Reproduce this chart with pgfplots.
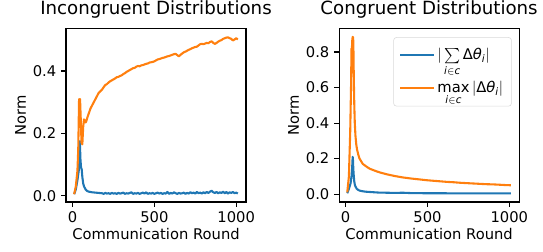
\documentclass[border=0pt]{standalone}
\usepackage{amsmath}
\usepackage{fontspec}
\setmainfont{DejaVu Sans}
\usepackage{pgfplots}
\pgfplotsset{compat=1.18}
\definecolor{cA}{HTML}{1F77B4}
\definecolor{cB}{HTML}{FF7F0E}
\newcommand\mi[1]{\text{\itshape #1}}
\pgfplotsset{
  mpl/.style={
    scale only axis, width=129.6pt, height=124.6pt,
    axis line style={line width=0.8pt},
    tick align=outside, major tick length=3.5pt,
    tick style={line width=0.8pt, black},
    xtick pos=left, ytick pos=left,
    xmin=-40, xmax=1060, xtick={0,500,1000},
    /pgf/number format/assume math mode=true,
    /pgf/number format/fixed, /pgf/number format/1000 sep={},
    ticklabel style={font=\fontsize{10.6}{12}\selectfont},
    label style={font=\fontsize{10.6}{12}\selectfont},
    title style={font=\fontsize{13.1}{14}\selectfont, yshift=-2pt},
    xlabel={Communication Round}, ylabel={Norm},
    xlabel style={yshift=3pt}, ylabel style={yshift=-2pt},
    every axis plot/.append style={line width=1.5pt, line join=round},
  }
}
\begin{document}
\begin{tikzpicture}
\path[use as bounding box] (-47.5pt,-35.3pt) rectangle (343.4pt,145.4pt);
\begin{axis}[mpl, title={Incongruent Distributions},
  ymin=-0.02, ymax=0.535, ytick={0,0.2,0.4},
  yticklabel style={/pgf/number format/precision=1, /pgf/number format/fixed zerofill}]
\addplot[cA] coordinates {(10,0.005)(20,0.02)(30,0.05)(38,0.08)(42,0.13)(45,0.175)(48,0.12)(52,0.09)(56,0.085)(60,0.06)(65,0.04)(70,0.03)(80,0.02)(90,0.015)(100,0.013)(120,0.011)(140,0.01)(160,0.009)(180,0.008)(190,0.006)(200,0.009)(210,0.007)(220,0.008)(230,0.006)(240,0.009)(250,0.007)(260,0.008)(270,0.006)(280,0.009)(290,0.007)(300,0.008)(310,0.01)(320,0.006)(330,0.008)(340,0.007)(350,0.009)(360,0.011)(370,0.006)(380,0.008)(390,0.007)(400,0.009)(410,0.006)(420,0.008)(430,0.01)(440,0.007)(450,0.011)(460,0.006)(470,0.008)(480,0.007)(490,0.009)(500,0.006)(510,0.008)(520,0.01)(530,0.007)(540,0.009)(550,0.006)(560,0.008)(570,0.007)(580,0.012)(590,0.006)(600,0.009)(610,0.007)(620,0.011)(630,0.008)(640,0.006)(650,0.009)(660,0.007)(670,0.008)(680,0.01)(690,0.006)(700,0.009)(710,0.007)(720,0.011)(730,0.008)(740,0.01)(750,0.007)(760,0.012)(770,0.008)(780,0.01)(790,0.007)(800,0.011)(810,0.008)(820,0.012)(830,0.009)(840,0.013)(850,0.016)(860,0.011)(870,0.009)(880,0.012)(890,0.008)(900,0.011)(910,0.009)(920,0.013)(930,0.008)(940,0.012)(950,0.007)(960,0.011)(970,0.009)(980,0.012)(990,0.008)(1000,0.01)(1010,0.007)};
\addplot[cB] coordinates {(10,0.005)(20,0.03)(30,0.08)(35,0.15)(40,0.31)(43,0.30)(46,0.31)(50,0.25)(55,0.17)(60,0.165)(65,0.22)(70,0.245)(75,0.24)(80,0.235)(85,0.24)(90,0.25)(100,0.265)(110,0.28)(120,0.29)(130,0.30)(140,0.31)(150,0.32)(160,0.33)(170,0.335)(180,0.34)(190,0.348)(200,0.355)(210,0.358)(220,0.363)(230,0.367)(240,0.37)(250,0.373)(260,0.376)(270,0.38)(280,0.381)(290,0.384)(300,0.386)(310,0.39)(320,0.393)(330,0.397)(340,0.40)(350,0.403)(360,0.406)(370,0.409)(380,0.41)(390,0.414)(400,0.416)(410,0.415)(420,0.418)(430,0.419)(440,0.421)(450,0.423)(460,0.424)(470,0.427)(480,0.428)(490,0.429)(500,0.431)(510,0.434)(520,0.437)(530,0.438)(540,0.44)(550,0.442)(560,0.443)(570,0.445)(580,0.447)(590,0.448)(600,0.45)(610,0.452)(620,0.454)(630,0.455)(640,0.451)(650,0.447)(660,0.452)(670,0.456)(680,0.46)(690,0.462)(700,0.465)(710,0.468)(720,0.47)(730,0.473)(740,0.475)(750,0.477)(760,0.478)(770,0.482)(780,0.486)(790,0.487)(800,0.486)(810,0.488)(820,0.49)(830,0.489)(840,0.493)(850,0.495)(860,0.49)(870,0.487)(880,0.49)(890,0.494)(900,0.497)(910,0.499)(920,0.503)(930,0.505)(940,0.507)(950,0.508)(960,0.505)(970,0.503)(980,0.498)(990,0.501)(1000,0.505)(1010,0.501)};
\end{axis}
\begin{axis}[mpl, xshift=196.6pt, title={Congruent Distributions},
  ymin=-0.044, ymax=0.93, ytick={0,0.2,0.4,0.6,0.8},
  yticklabel style={/pgf/number format/precision=1, /pgf/number format/fixed zerofill},
  legend cell align=left,
  legend style={at={(0.959,0.952)}, anchor=north east, draw=black!15, rounded corners=2pt,
    font=\fontsize{10.6}{12}\selectfont, row sep=12pt, inner xsep=4pt, inner ysep=7pt,
    nodes={inner ysep=1pt}},
  legend image code/.code={\draw[#1] (0pt,0pt) -- (24pt,0pt);}]
\addplot[cA] coordinates {(10,0.005)(20,0.03)(30,0.06)(36,0.1)(40,0.15)(43,0.21)(45,0.19)(47,0.14)(50,0.1)(53,0.07)(57,0.05)(62,0.04)(68,0.03)(75,0.025)(85,0.02)(100,0.017)(120,0.014)(150,0.012)(200,0.009)(250,0.008)(300,0.007)(350,0.008)(400,0.006)(500,0.005)(600,0.005)(700,0.004)(800,0.004)(900,0.004)(1010,0.004)};
\addlegendentry{$|\sum\limits_{\mi{i}\in \mi{c}}\text{Δ}\mi{θ}_{\mi{i}}|$}
\addplot[cB] coordinates {(10,0.01)(20,0.1)(28,0.35)(33,0.6)(36,0.82)(38,0.80)(40,0.86)(43,0.885)(46,0.88)(48,0.8)(50,0.65)(53,0.5)(56,0.4)(60,0.33)(65,0.28)(70,0.25)(78,0.22)(85,0.2)(95,0.185)(105,0.17)(120,0.16)(135,0.15)(150,0.142)(170,0.135)(190,0.128)(210,0.122)(230,0.117)(250,0.112)(275,0.107)(300,0.102)(325,0.098)(350,0.094)(375,0.091)(400,0.088)(430,0.085)(460,0.082)(500,0.078)(540,0.075)(580,0.072)(620,0.069)(660,0.067)(700,0.064)(740,0.062)(780,0.06)(820,0.058)(860,0.056)(900,0.055)(940,0.053)(980,0.051)(1010,0.05)};
\addlegendentry{$\max\limits_{\mi{i}\in \mi{c}}|\text{Δ}\mi{θ}_{\mi{i}}|$}
\end{axis}
\end{tikzpicture}
\end{document}
